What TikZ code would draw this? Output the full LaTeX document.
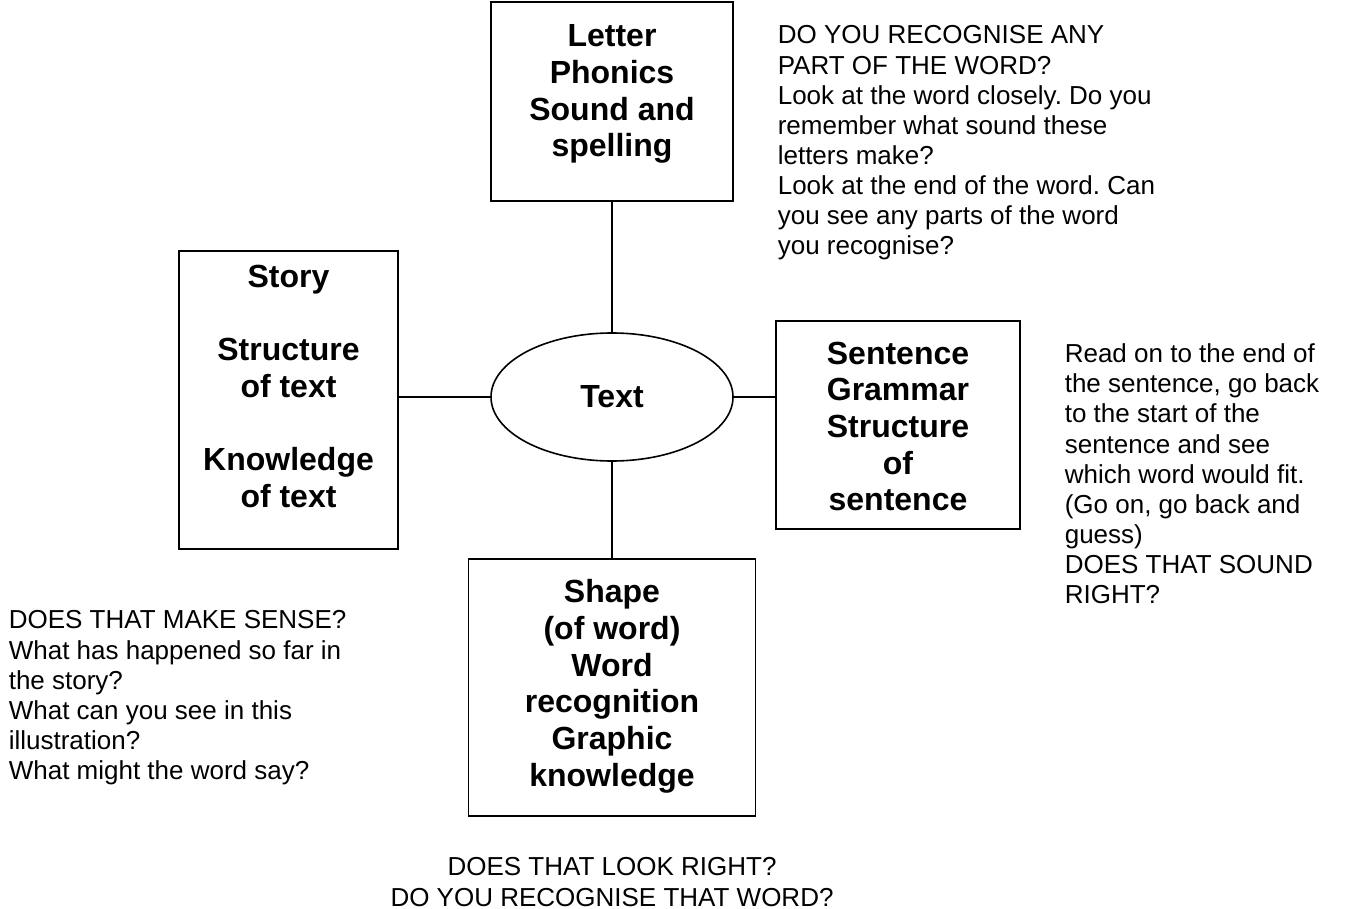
\documentclass[tikz,border=0pt]{standalone}
\usepackage{fontspec}
\setmainfont{Liberation Sans}
\usetikzlibrary{shapes.geometric}
\frenchspacing
\begin{document}
\begin{tikzpicture}[x=0.75pt, y=-0.75pt, line width=1.2pt,
  box/.style={draw=black, rectangle, inner sep=0pt},
  boxtext/.style={anchor=north, align=center, inner sep=0pt, font=\bfseries\fontsize{24pt}{27.5pt}\selectfont},
  hint/.style={anchor=north west, align=left, inner sep=0pt, font=\fontsize{19.5pt}{22.6pt}\selectfont}]
\useasboundingbox (0,0) rectangle (1345,909);
% the four boxes and the centre
\node[box, minimum width=181.5pt, minimum height=149.25pt] (letter) at (612,101.5) {};
\node[box, minimum width=164.25pt, minimum height=223.5pt] (story) at (288.5,400) {};
\node[box, minimum width=183pt, minimum height=156pt] (sentence) at (898,425) {};
\node[box, minimum width=215.25pt, minimum height=192.75pt] (shape) at (612,687.5) {};
\node[draw=black, ellipse, minimum width=181.5pt, minimum height=96pt, inner sep=0pt,
  font=\bfseries\fontsize{24pt}{27.5pt}\selectfont] (text) at (612,397) {Text};

\node[boxtext] (lettertxt) at (612,24) {Letter\\Phonics\\Sound and\\spelling};
\node[boxtext] (storytxt) at (288.5,264) {Story\\[27.5pt]Structure\\of text\\[27.5pt]Knowledge\\of text};
\node[boxtext] (sentencetxt) at (898,341) {Sentence\\Grammar\\Structure\\of\\sentence};
\node[boxtext] (shapetxt) at (612,579) {Shape\\(of word)\\Word\\recognition\\Graphic\\knowledge};

\draw (letter.south) -- (text.north);
\draw (text.west) -- (text.west -| story.east);
\draw (text.east) -- (text.east -| sentence.west);
\draw (text.south) -- (shape.north);

% the questions
\node[hint] (letterq) at (777,25) {DO YOU RECOGNISE ANY\\PART OF THE WORD?\\Look at the word closely. Do you\\remember what sound these\\letters make?\\Look at the end of the word. Can\\you see any parts of the word\\you recognise?};
\node[hint] (sentenceq) at (1064,343) {Read on to the end of\\the sentence, go back\\to the start of the\\sentence and see\\which word would fit.\\(Go on, go back and\\guess)\\DOES THAT SOUND\\RIGHT?};
\node[hint] (storyq) at (8,610) {DOES THAT MAKE SENSE?\\What has happened so far in\\the story?\\What can you see in this\\illustration?\\What might the word say?};
\node[hint, anchor=north, align=center] (shapeq) at (612,857) {DOES THAT LOOK RIGHT?\\DO YOU RECOGNISE THAT WORD?};

\end{tikzpicture}
\end{document}
